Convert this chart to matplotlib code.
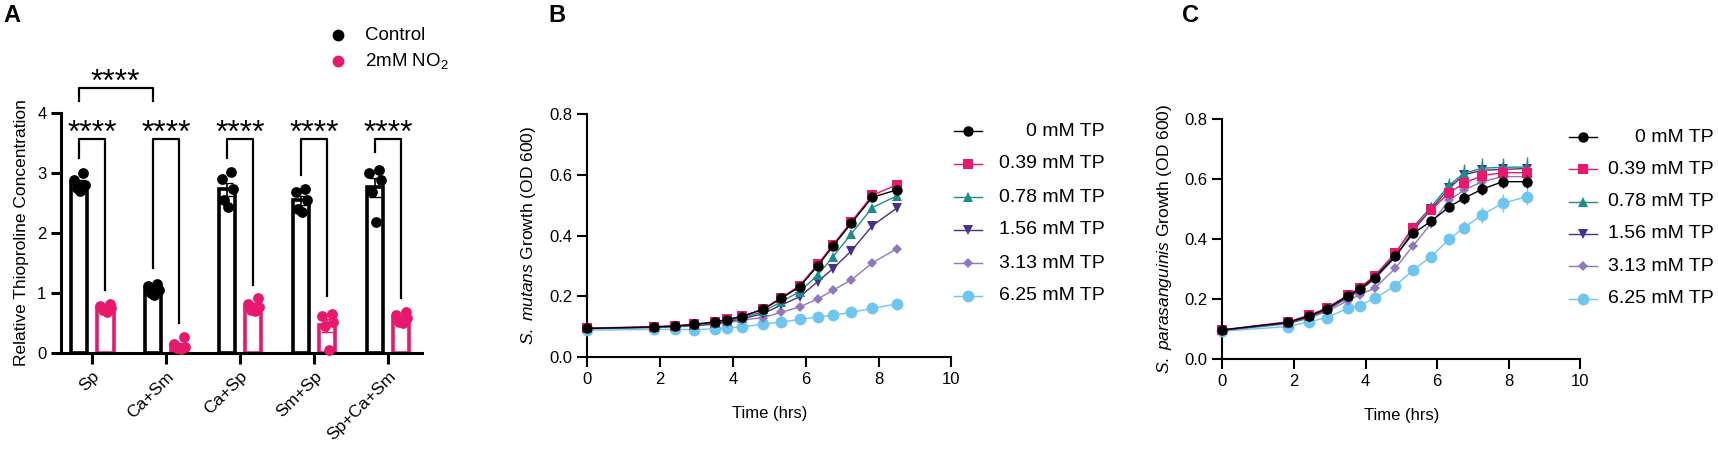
import matplotlib
matplotlib.use('Agg')
import matplotlib.pyplot as plt
from matplotlib.lines import Line2D
import numpy as np

plt.rcParams['font.family'] = ['Liberation Sans', 'DejaVu Sans']
plt.rcParams['mathtext.fontset'] = 'custom'
plt.rcParams['mathtext.rm'] = 'Liberation Sans'
plt.rcParams['mathtext.it'] = 'Liberation Sans:italic'

# ---- panel A data ----
groups = ['Sp', 'Ca+Sm', 'Ca+Sp', 'Sm+Sp', 'Sp+Ca+Sm']
ctrl_pts = [
    [3.00, 2.88, 2.79, 2.74, 2.70],
    [1.15, 1.12, 1.05, 1.00, 0.97],
    [3.02, 2.90, 2.72, 2.55, 2.43],
    [2.72, 2.68, 2.55, 2.40, 2.35],
    [3.04, 2.99, 2.88, 2.68, 2.18],
]
no2_pts = [
    [0.82, 0.78, 0.75, 0.72, 0.68],
    [0.26, 0.14, 0.10, 0.08, 0.06],
    [0.92, 0.82, 0.76, 0.72, 0.70],
    [0.65, 0.62, 0.52, 0.45, 0.04],
    [0.68, 0.63, 0.58, 0.52, 0.50],
]
legend_A = ['Control', r'2mM NO$_2$']
# bracket legs (bottom of left / right leg) and the stars
left_leg = [3.24, 1.41, 3.24, 2.96, 3.35]
right_leg = [1.04, 0.49, 1.13, 0.94, 0.91]
bracket_top = 3.57
stars = '****'

# ---- panel B / C data ----
hours = [0, 1.83, 2.42, 2.92, 3.5, 3.83, 4.25, 4.83, 5.33, 5.83, 6.33, 6.75, 7.25, 7.83, 8.5]
doses = ['0 mM TP', '0.39 mM TP', '0.78 mM TP', '1.56 mM TP', '3.13 mM TP', '6.25 mM TP']

mutans = [
    [0.094, 0.099, 0.102, 0.107, 0.115, 0.123, 0.133, 0.157, 0.193, 0.231, 0.300, 0.365, 0.440, 0.526, 0.550],
    [0.095, 0.100, 0.103, 0.108, 0.116, 0.124, 0.134, 0.158, 0.195, 0.235, 0.305, 0.370, 0.445, 0.532, 0.567],
    [0.094, 0.098, 0.101, 0.105, 0.112, 0.119, 0.128, 0.150, 0.182, 0.215, 0.270, 0.330, 0.405, 0.492, 0.530],
    [0.094, 0.098, 0.100, 0.104, 0.110, 0.117, 0.125, 0.143, 0.171, 0.198, 0.248, 0.291, 0.349, 0.432, 0.490],
    [0.093, 0.097, 0.099, 0.102, 0.107, 0.112, 0.121, 0.130, 0.147, 0.165, 0.191, 0.220, 0.253, 0.310, 0.356],
    [0.088, 0.091, 0.091, 0.090, 0.093, 0.096, 0.099, 0.108, 0.115, 0.124, 0.132, 0.137, 0.147, 0.160, 0.175],
]
mutans_err = [
    [0.002, 0.002, 0.002, 0.002, 0.003, 0.003, 0.003, 0.004, 0.005, 0.006, 0.007, 0.008, 0.009, 0.010, 0.012],
    [0.002, 0.002, 0.002, 0.002, 0.003, 0.003, 0.003, 0.004, 0.005, 0.006, 0.007, 0.008, 0.009, 0.010, 0.010],
    [0.002, 0.002, 0.002, 0.002, 0.003, 0.003, 0.003, 0.004, 0.005, 0.006, 0.007, 0.008, 0.009, 0.010, 0.011],
    [0.002, 0.002, 0.002, 0.002, 0.002, 0.003, 0.003, 0.003, 0.004, 0.005, 0.006, 0.007, 0.008, 0.009, 0.010],
    [0.002, 0.002, 0.002, 0.002, 0.002, 0.002, 0.003, 0.003, 0.003, 0.004, 0.004, 0.005, 0.005, 0.006, 0.007],
    [0.002, 0.002, 0.002, 0.002, 0.002, 0.002, 0.002, 0.002, 0.003, 0.003, 0.003, 0.003, 0.004, 0.004, 0.004],
]

parasang = [
    [0.098, 0.123, 0.144, 0.169, 0.211, 0.234, 0.272, 0.344, 0.420, 0.460, 0.508, 0.537, 0.567, 0.592, 0.592],
    [0.098, 0.125, 0.147, 0.171, 0.214, 0.238, 0.278, 0.355, 0.439, 0.498, 0.555, 0.587, 0.612, 0.622, 0.622],
    [0.097, 0.122, 0.143, 0.168, 0.210, 0.233, 0.275, 0.352, 0.442, 0.508, 0.580, 0.620, 0.637, 0.640, 0.641],
    [0.097, 0.121, 0.141, 0.165, 0.205, 0.228, 0.268, 0.340, 0.430, 0.500, 0.570, 0.615, 0.630, 0.633, 0.636],
    [0.096, 0.118, 0.137, 0.160, 0.195, 0.215, 0.237, 0.303, 0.379, 0.453, 0.530, 0.564, 0.592, 0.609, 0.609],
    [0.094, 0.109, 0.125, 0.139, 0.170, 0.179, 0.203, 0.245, 0.298, 0.342, 0.400, 0.439, 0.481, 0.520, 0.542],
]
parasang_err = [
    [0.003, 0.003, 0.003, 0.004, 0.004, 0.005, 0.006, 0.008, 0.010, 0.012, 0.015, 0.018, 0.020, 0.020, 0.022],
    [0.003, 0.003, 0.004, 0.004, 0.005, 0.006, 0.007, 0.009, 0.011, 0.015, 0.020, 0.024, 0.026, 0.026, 0.028],
    [0.003, 0.003, 0.004, 0.004, 0.005, 0.006, 0.007, 0.009, 0.012, 0.018, 0.025, 0.030, 0.035, 0.030, 0.032],
    [0.003, 0.003, 0.004, 0.004, 0.005, 0.006, 0.007, 0.009, 0.012, 0.017, 0.024, 0.028, 0.030, 0.028, 0.030],
    [0.003, 0.003, 0.003, 0.004, 0.004, 0.005, 0.006, 0.008, 0.010, 0.014, 0.018, 0.020, 0.022, 0.022, 0.024],
    [0.003, 0.003, 0.003, 0.004, 0.004, 0.005, 0.006, 0.008, 0.010, 0.014, 0.018, 0.022, 0.026, 0.030, 0.028],
]

PINK = '#E8196C'
dose_colors = ['#000000', PINK, '#1E8C8A', '#46308C', '#9178BE', '#6EC6F0']
dose_markers = ['o', 's', '^', 'v', 'D', 'o']
dose_msize = [7.5, 7, 7, 7, 5, 8.5]

fig = plt.figure(figsize=(17.18, 4.5), dpi=100)
W, H = 1718, 450


def fx(px):
    return px / W


def fy(py):
    return 1 - py / H


def px_axes(l, r, b, t):
    return fig.add_axes([fx(l), fy(b), (r - l) / W, (b - t) / H])


def style(ax, lw=1.5):
    for s in ['top', 'right']:
        ax.spines[s].set_visible(False)
    for s in ['left', 'bottom']:
        ax.spines[s].set_linewidth(lw)
    ax.tick_params(width=lw, length=7, labelsize=12, color='black')


# ---------------- Panel A ----------------
axA = px_axes(61, 422, 352.7, 112.7)
style(axA, lw=2.2)
x = np.arange(len(groups))
off, bw = 0.18, 0.22
jit = np.array([0.06, -0.07, 0.08, -0.03, 0.02])
for pts, sign, col in [(ctrl_pts, -1, 'black'), (no2_pts, 1, PINK)]:
    arr = np.array(pts)
    means = arr.mean(axis=1)
    sem = arr.std(axis=1, ddof=1) / np.sqrt(arr.shape[1])
    xs = x + sign * off
    axA.bar(xs, means, width=bw, facecolor='white', edgecolor=col, linewidth=2.6, zorder=2)
    axA.errorbar(xs, means, yerr=sem, fmt='none', ecolor=col, elinewidth=1.2, capsize=4, zorder=3)
    for i in range(len(groups)):
        axA.scatter(xs[i] + jit, arr[i], s=60, color=col, zorder=4, linewidths=0, clip_on=False)

# within-group brackets
for i in range(len(groups)):
    xl, xr = x[i] - off, x[i] + off
    axA.plot([xl, xl, xr, xr], [left_leg[i], bracket_top, bracket_top, right_leg[i]],
             color='black', lw=1.6, clip_on=False, zorder=5)
    axA.text(x[i], bracket_top - 0.05, stars, ha='center', va='baseline', fontsize=23, clip_on=False)
# Sp vs Ca+Sm control bracket
axA.plot([x[0] - off, x[0] - off, x[1] - off, x[1] - off], [4.2, 4.42, 4.42, 4.2],
         color='black', lw=1.6, clip_on=False)
axA.text((x[0] + x[1]) / 2 - off, 4.37, stars, ha='center', va='baseline', fontsize=23, clip_on=False)

axA.set_xlim(-0.42, 4.46)
axA.set_ylim(0, 4)
axA.set_yticks([0, 1, 2, 3, 4])
axA.set_xticks(x)
axA.set_xticklabels(groups, rotation=45, ha='right', rotation_mode='anchor', fontsize=12.5)
axA.tick_params(axis='x', length=8)
axA.set_ylabel('Relative Thioproline Concentration', fontsize=12.5, labelpad=6)

# legend of panel A
for k, (lab, col) in enumerate(zip(legend_A, ['black', PINK])):
    yy = 35 + 26 * k
    fig.add_artist(Line2D([fx(338)], [fy(yy)], transform=fig.transFigure, marker='o', ms=8.5,
                          color=col, mew=0, ls='none'))
    fig.text(fx(365), fy(yy), lab, fontsize=13.5, ha='left', va='center')


def growth(ax, data, err, ylabel, leg_x, leg_right, leg_y0, leg_dy):
    style(ax)
    n = len(data)
    for k in range(n - 1, -1, -1):
        ax.errorbar(hours, data[k], yerr=err[k], color=dose_colors[k], marker=dose_markers[k],
                    ms=dose_msize[k], lw=1.0, elinewidth=1.0, capsize=3.5, mew=0,
                    zorder=3 + (n - k), clip_on=False)
    ax.set_xlim(0, 10)
    ax.set_ylim(0, 0.8)
    ax.set_xticks([0, 2, 4, 6, 8, 10])
    ax.set_yticks([0, 0.2, 0.4, 0.6, 0.8])
    ax.yaxis.set_major_formatter(matplotlib.ticker.FormatStrFormatter('%.1f'))
    ax.set_xlabel('Time (hrs)', fontsize=12, labelpad=14)
    ax.set_ylabel(ylabel, fontsize=12.5, labelpad=8)
    # legend with right-aligned labels
    for k in range(n):
        yy = leg_y0 + leg_dy * k
        fig.add_artist(Line2D([fx(leg_x - 14), fx(leg_x + 14)], [fy(yy), fy(yy)],
                              transform=fig.transFigure, color=dose_colors[k], lw=1.0))
        fig.add_artist(Line2D([fx(leg_x)], [fy(yy)], transform=fig.transFigure, ls='none',
                              marker=dose_markers[k], ms=dose_msize[k], color=dose_colors[k], mew=0))
        fig.text(fx(leg_right), fy(yy), doses[k], fontsize=14, ha='right', va='center')


axB = px_axes(587.3, 951.3, 357, 114)
growth(axB, mutans, mutans_err, r'$\it{S.\ mutans}$ Growth (OD 600)', 968, 1105, 131, 33)
axC = px_axes(1222.4, 1580.4, 359.3, 119.3)
growth(axC, parasang, parasang_err, r'$\it{S.\ parasanguinis}$ Growth (OD 600)', 1583, 1714, 137, 32.3)

for lab, xp in [('A', 3), ('B', 548), ('C', 1182)]:
    fig.text(fx(xp), fy(4), lab, fontsize=17, fontweight='bold', va='top', ha='left')

fig.savefig('out.png', dpi=100)
